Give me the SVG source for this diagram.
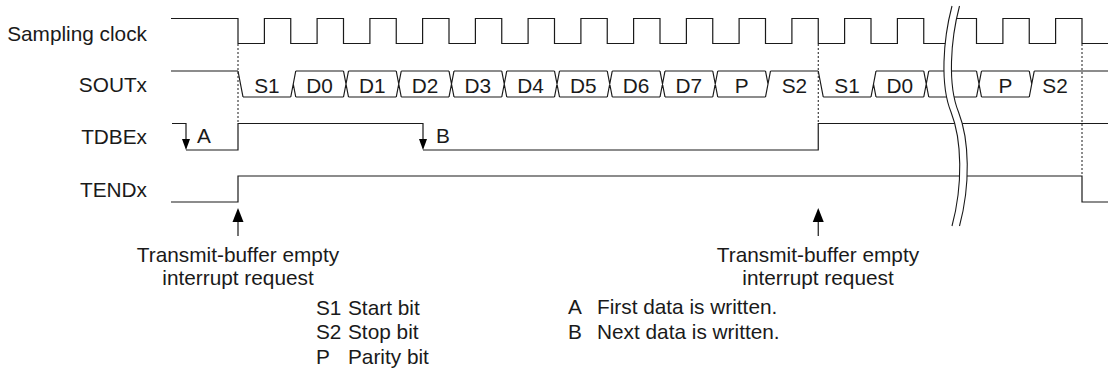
<svg xmlns="http://www.w3.org/2000/svg" width="1108" height="370" viewBox="0 0 1108 370">
<style>
.sig{fill:none;stroke:#1a1a1a;stroke-width:1.2;stroke-linejoin:miter}
.dash{fill:none;stroke:#1a1a1a;stroke-width:1;stroke-dasharray:2,2}
.ah{fill:#000;stroke:none}
.t{font-family:"Liberation Sans",Arial,sans-serif;font-size:20.8px;fill:#1a1a1a}
.r{text-anchor:end}
.m{text-anchor:middle}
.brk{fill:none;stroke:#1a1a1a;stroke-width:1.1}
</style>
<g id="signal-names">
<text class="t r" x="147" y="41">Sampling clock</text>
<text class="t r" x="147" y="92">SOUTx</text>
<text class="t r" x="147" y="144">TDBEx</text>
<text class="t r" x="147" y="197">TENDx</text>
</g>
<g id="clock">
<path class="sig" d="M171,18.5 H238 V43.5 H264.4 V18.5 H290.75 V43.5 H317.1 V18.5 H343.5 V43.5 H369.9 V18.5 H396.25 V43.5 H422.6 V18.5 H449 V43.5 H475.4 V18.5 H501.75 V43.5 H528.1 V18.5 H554.5 V43.5 H580.9 V18.5 H607.25 V43.5 H633.6 V18.5 H660 V43.5 H686.4 V18.5 H712.75 V43.5 H739.1 V18.5 H765.5 V43.5 H791.9 V18.5 H818.25 V43.5 H844.6 V18.5 H871 V43.5 H897.4 V18.5 H923.75 V43.5 H950.1 V18.5 H976.5 V43.5 H1002.9 V18.5 H1029.25 V43.5 H1055.6 V18.5 H1082 V43.5 H1108"/>
</g>
<g id="soutx">
<path class="sig" d="M171,71 H238 M295.75,71 H343.5 M348.5,71 H396.25 M401.25,71 H449 M454,71 H501.75 M506.75,71 H554.5 M559.5,71 H607.25 M612.25,71 H660 M665,71 H712.75 M717.75,71 H765.5 M770.5,71 H818.25 M876,71 H923.75 M928.75,71 H976.5 M981.5,71 H1029.25 M1034.25,71 H1108"/>
<path class="sig" d="M243,97 H290.75 M295.75,97 H343.5 M348.5,97 H396.25 M401.25,97 H449 M454,97 H501.75 M506.75,97 H554.5 M559.5,97 H607.25 M612.25,97 H660 M665,97 H712.75 M717.75,97 H765.5 M823.25,97 H871 M876,97 H923.75 M928.75,97 H976.5 M981.5,97 H1029.25"/>
<path class="sig" d="M238,71 L243,97 M293.25,84 L295.75,97 M290.75,97 L295.75,71 M343.5,71 L348.5,97 M343.5,97 L348.5,71 M396.25,71 L401.25,97 M396.25,97 L401.25,71 M449,71 L454,97 M449,97 L454,71 M501.75,71 L506.75,97 M501.75,97 L506.75,71 M554.5,71 L559.5,97 M554.5,97 L559.5,71 M607.25,71 L612.25,97 M607.25,97 L612.25,71 M660,71 L665,97 M660,97 L665,71 M712.75,71 L717.75,97 M712.75,97 L717.75,71 M765.5,71 L768,84 M765.5,97 L770.5,71 M818.25,71 L823.25,97 M873.5,84 L876,97 M871,97 L876,71 M923.75,71 L928.75,97 M923.75,97 L928.75,71 M976.5,71 L981.5,97 M976.5,97 L981.5,71 M1029.25,71 L1031.75,84 M1029.25,97 L1034.25,71"/>
<text class="t m" x="266.9" y="92.5">S1</text>
<text class="t m" x="319.6" y="92.5">D0</text>
<text class="t m" x="372.4" y="92.5">D1</text>
<text class="t m" x="425.1" y="92.5">D2</text>
<text class="t m" x="477.9" y="92.5">D3</text>
<text class="t m" x="530.6" y="92.5">D4</text>
<text class="t m" x="583.4" y="92.5">D5</text>
<text class="t m" x="636.1" y="92.5">D6</text>
<text class="t m" x="688.9" y="92.5">D7</text>
<text class="t m" x="741.6" y="92.5">P</text>
<text class="t m" x="794.4" y="92.5">S2</text>
<text class="t m" x="847.1" y="92.5">S1</text>
<text class="t m" x="899.9" y="92.5">D0</text>
<text class="t m" x="1005.4" y="92.5">P</text>
<text class="t m" x="1055" y="92.5">S2</text>
</g>
<g id="tdbex">
<path class="sig" d="M172,123.5 H186 V142 M186,150 H238 V123.5 H423 V142 M423,150 H818.25 V123.5 H1108"/>
<polygon class="ah" points="182,139 190,139 186,150"/>
<polygon class="ah" points="419,139 427,139 423,150"/>
<text class="t" x="197" y="143">A</text>
<text class="t" x="436" y="143">B</text>
</g>
<g id="tendx">
<path class="sig" d="M171,202 H238 V176 H1082 V202 H1108"/>
</g>
<g id="break">
<path fill="#fff" stroke="none" d="M952,6 C943,40 940,85 951,112 C962,140 963,185 952,226 L959.5,226 C970.5,185 969.5,140 958.5,112 C947.5,85 950.5,40 959.5,6 Z"/>
<path class="brk" d="M952,6 C943,40 940,85 951,112 C962,140 963,185 952,226"/>
<path class="brk" d="M959.5,6 C950.5,40 947.5,85 958.5,112 C969.5,140 970.5,185 959.5,226"/>
</g>
<g id="connectors">
<path class="dash" d="M238,44 V123 M818.25,44 V123 M1082,44 V176"/>
<path class="sig" d="M238,220 V236 M818.25,220 V236"/>
<polygon class="ah" points="238,208 232.5,222 243.5,222"/>
<polygon class="ah" points="818.25,208 812.75,222 823.75,222"/>
</g>
<g id="irq-label-1">
<text class="t m" x="238" y="262">Transmit-buffer empty</text>
<text class="t m" x="238" y="285">interrupt request</text>
</g>
<g id="irq-label-2">
<text class="t m" x="818" y="262">Transmit-buffer empty</text>
<text class="t m" x="818" y="285">interrupt request</text>
</g>
<g id="legend-bits">
<text class="t" x="316" y="315">S1</text><text class="t" x="348" y="315">Start bit</text>
<text class="t" x="316" y="339">S2</text><text class="t" x="348" y="339">Stop bit</text>
<text class="t" x="316" y="364">P</text><text class="t" x="348" y="364">Parity bit</text>
</g>
<g id="legend-events">
<text class="t" x="568" y="314">A</text><text class="t" x="597" y="314">First data is written.</text>
<text class="t" x="568" y="339">B</text><text class="t" x="597" y="339">Next data is written.</text>
</g>
</svg>
